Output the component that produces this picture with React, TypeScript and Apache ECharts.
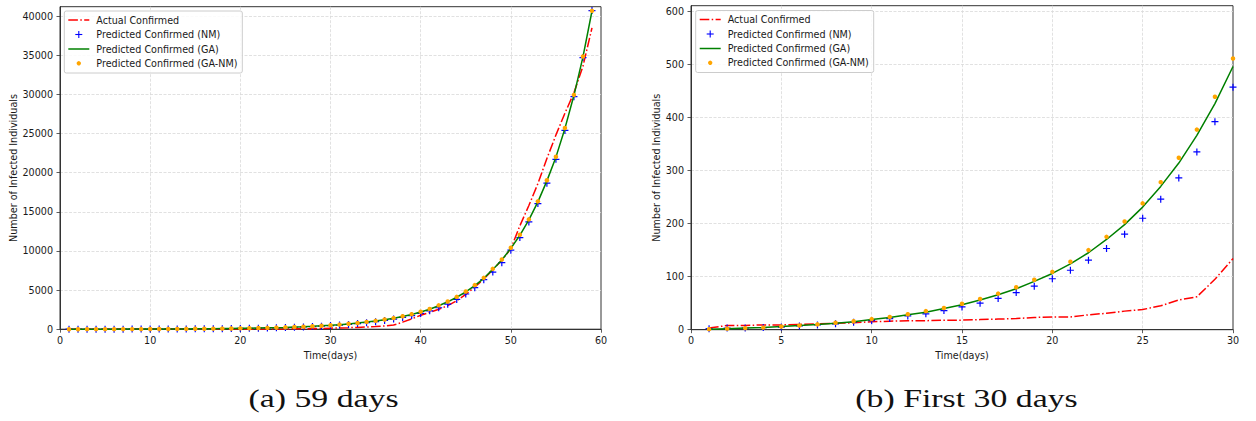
import React, { useEffect, useRef } from "react";
import * as echarts from "echarts";

// ---- data ----
const actualConfirmed = [
  3, 8, 8, 9, 9, 10, 11, 12, 13, 15, 16, 17, 17, 18, 18, 19, 20, 21, 23, 24,
  24, 28, 31, 35, 38, 45, 56, 62, 95, 134,
  160, 190, 230, 280, 340, 420, 530, 900, 1320, 1780, 2150, 2550, 3000, 3650,
  4450, 5400, 6400, 7600, 8800, 10300, 13200, 15800, 18600, 21800, 24800,
  27600, 30200, 33600, 38500,
];
const predictedNM = [
  2, 3, 3, 4, 5, 7, 9, 11, 14, 17, 21, 26, 30, 36, 43, 50, 59, 70, 82, 96,
  112, 131, 153, 180, 210, 246, 286, 335, 392, 457,
  530, 615, 715, 830, 960, 1110, 1290, 1500, 1740, 2020, 2350, 2740, 3200,
  3800, 4500, 5300, 6330, 7300, 8500, 10100, 11700, 13700, 16050, 18650,
  21700, 25400, 29700, 34700, 40700,
];
const predictedGA = [
  1, 2, 3, 4, 6, 8, 10, 12, 15, 19, 23, 28, 33, 40, 47, 56, 66, 77, 91, 106,
  124, 145, 170, 198, 231, 270, 314, 366, 426, 496,
  575, 670, 780, 905, 1050, 1210, 1400, 1620, 1890, 2190, 2550, 3000, 3500,
  4080, 4770, 5570, 6500, 7640, 8850, 10330, 12000, 13970, 16270, 18950,
  21980, 25650, 29880, 34800, 40650,
];
const predictedGANM = [
  1, 2, 3, 4, 6, 8, 10, 13, 16, 20, 24, 29, 35, 41, 49, 58, 68, 80, 94, 109,
  128, 150, 175, 204, 238, 278, 324, 377, 439, 511,
  590, 690, 800, 930, 1070, 1230, 1420, 1650, 1920, 2220, 2580, 3050, 3540,
  4130, 4820, 5630, 6560, 7710, 8910, 10400, 12060, 14030, 16330, 19020,
  22040, 25710, 29930, 34830, 40670,
];
const days = actualConfirmed.map((_, i) => i + 1);
const legendNames = [
  "Actual Confirmed",
  "Predicted Confirmed (NM)",
  "Predicted Confirmed (GA)",
  "Predicted Confirmed (GA-NM)",
];
const captions = ["(a) 59 days", "(b) First 30 days"];
const xTitle = "Time(days)";
const yTitle = "Number of Infected Individuals";

const FONT = "DejaVu Sans";
const FS = 9.6;
const RED = "#ff0000";
const BLUE = "#0000ff";
const GREEN = "#008000";
const ORANGE = "#ffa500";
const DASHDOT = [9.6, 2.4, 1.5, 2.4];
const PLUS = "path://M2.9,0H4.1V7H2.9Z M0,2.9H7V4.1H0Z";
const GRIDLINE = { color: "#d9d9d9", width: 0.8, type: [3, 1.5] };

function pairs(vals: number[], n: number) {
  return vals.slice(0, n).map((v, i) => [days[i], v]);
}

function legend(bx: number, by: number) {
  const els: any[] = [];
  els.push({
    type: "rect",
    shape: { x: bx, y: by, width: 178, height: 62, r: 2 },
    style: { fill: "rgba(255,255,255,0.85)", stroke: "#cccccc", lineWidth: 1 },
    z: 100,
  });
  const rows = [9, 23.5, 38, 52.3];
  const lx1 = bx + 4, lx2 = bx + 25, cx = bx + 14.5;
  els.push({
    type: "line",
    shape: { x1: lx1, y1: by + rows[0], x2: lx2, y2: by + rows[0] },
    style: { stroke: RED, lineWidth: 1.5, lineDash: DASHDOT },
    z: 101,
  });
  els.push({
    type: "line",
    shape: { x1: cx - 3.5, y1: by + rows[1], x2: cx + 3.5, y2: by + rows[1] },
    style: { stroke: BLUE, lineWidth: 1.1 },
    z: 101,
  });
  els.push({
    type: "line",
    shape: { x1: cx, y1: by + rows[1] - 3.5, x2: cx, y2: by + rows[1] + 3.5 },
    style: { stroke: BLUE, lineWidth: 1.1 },
    z: 101,
  });
  els.push({
    type: "line",
    shape: { x1: lx1, y1: by + rows[2], x2: lx2, y2: by + rows[2] },
    style: { stroke: GREEN, lineWidth: 1.5 },
    z: 101,
  });
  els.push({
    type: "circle",
    shape: { cx, cy: by + rows[3], r: 2.2 },
    style: { fill: ORANGE },
    z: 101,
  });
  legendNames.forEach((t, i) => {
    els.push({
      type: "text",
      x: bx + 32,
      y: by + rows[i],
      style: {
        text: t,
        fontFamily: FONT,
        fontSize: FS,
        fill: "#1a1a1a",
        textAlign: "left",
        textVerticalAlign: "middle",
      },
      z: 101,
    });
  });
  return els;
}

function caption(text: string, cx: number, cy: number) {
  return {
    type: "text",
    x: cx,
    y: cy,
    scaleX: 1.3,
    style: {
      text,
      x: 0,
      y: 0,
      fontFamily: "Liberation Serif",
      fontSize: 26,
      fontWeight: "normal",
      fill: "#111",
      textAlign: "center",
      textVerticalAlign: "middle",
    },
  };
}

function xAxis(gridIndex: number, max: number, interval: number) {
  return {
    gridIndex,
    type: "value",
    min: 0,
    max,
    interval,
    name: xTitle,
    nameLocation: "middle",
    nameGap: 20,
    nameTextStyle: { fontFamily: FONT, fontSize: FS, color: "#1a1a1a" },
    axisLine: { onZero: false, lineStyle: { color: "#333", width: 1 } },
    axisTick: { show: true, length: 3.5, lineStyle: { color: "#333", width: 0.8 } },
    axisLabel: { fontFamily: FONT, fontSize: FS, color: "#1a1a1a", margin: 6 },
    splitLine: { show: true, showMinLine: false, showMaxLine: false, lineStyle: GRIDLINE },
  };
}

function yAxis(gridIndex: number, max: number, interval: number, nameGap: number) {
  return {
    gridIndex,
    type: "value",
    min: 0,
    max,
    interval,
    name: yTitle,
    nameLocation: "middle",
    nameGap,
    nameTextStyle: { fontFamily: FONT, fontSize: FS, color: "#1a1a1a" },
    axisLine: { show: true, onZero: false, lineStyle: { color: "#333", width: 1 } },
    axisTick: { show: true, length: 3.5, lineStyle: { color: "#333", width: 0.8 } },
    axisLabel: {
      fontFamily: FONT,
      fontSize: FS,
      color: "#1a1a1a",
      margin: 7,
      showMaxLabel: false,
      formatter: (v: number) => String(v),
    },
    splitLine: { show: true, showMinLine: false, showMaxLine: false, lineStyle: GRIDLINE },
  };
}

function seriesFor(idx: number, n: number) {
  return [
    {
      type: "line",
      name: legendNames[0],
      xAxisIndex: idx,
      yAxisIndex: idx,
      data: pairs(actualConfirmed, n),
      showSymbol: false,
      lineStyle: { color: RED, width: 1.5, type: DASHDOT },
      itemStyle: { color: RED },
      z: 2,
    },
    {
      type: "scatter",
      name: legendNames[1],
      xAxisIndex: idx,
      yAxisIndex: idx,
      data: pairs(predictedNM, n),
      symbol: PLUS,
      symbolSize: 7,
      itemStyle: { color: BLUE, opacity: 1 },
      z: 3,
    },
    {
      type: "line",
      name: legendNames[2],
      xAxisIndex: idx,
      yAxisIndex: idx,
      data: pairs(predictedGA, n),
      showSymbol: false,
      lineStyle: { color: GREEN, width: 1.5 },
      itemStyle: { color: GREEN },
      z: 4,
    },
    {
      type: "scatter",
      name: legendNames[3],
      xAxisIndex: idx,
      yAxisIndex: idx,
      data: pairs(predictedGANM, n),
      symbol: "circle",
      symbolSize: 4.5,
      itemStyle: { color: ORANGE, opacity: 1 },
      z: 5,
    },
  ];
}

export default function App() {
  const ref = useRef<HTMLDivElement>(null);
  useEffect(() => {
    if (!ref.current) return;
    const chart = echarts.init(ref.current, undefined, { renderer: "svg" });
    chart.setOption({
      animation: false,
      backgroundColor: "#ffffff",
      grid: [
        { left: 60, top: 6.7, width: 541, height: 322.5, show: true, borderColor: "#333", borderWidth: 1, containLabel: false },
        { left: 691, top: 5.7, width: 542, height: 324, show: true, borderColor: "#333", borderWidth: 1, containLabel: false },
      ],
      xAxis: [xAxis(0, 60, 10), xAxis(1, 30, 5)],
      yAxis: [yAxis(0, 41200, 5000, 42), yAxis(1, 610.5, 100, 29)],
      series: [...seriesFor(0, 59), ...seriesFor(1, 30)],
      graphic: [
        ...legend(64.3, 11),
        ...legend(695.7, 10.5),
        caption(captions[0], 323.5, 398),
        caption(captions[1], 966.5, 398),
      ],
    });
    return () => chart.dispose();
  }, []);
  return (
    <div
      ref={ref}
      style={{ position: "absolute", left: 0, top: 0, width: 1256, height: 421, background: "#fff" }}
    />
  );
}
